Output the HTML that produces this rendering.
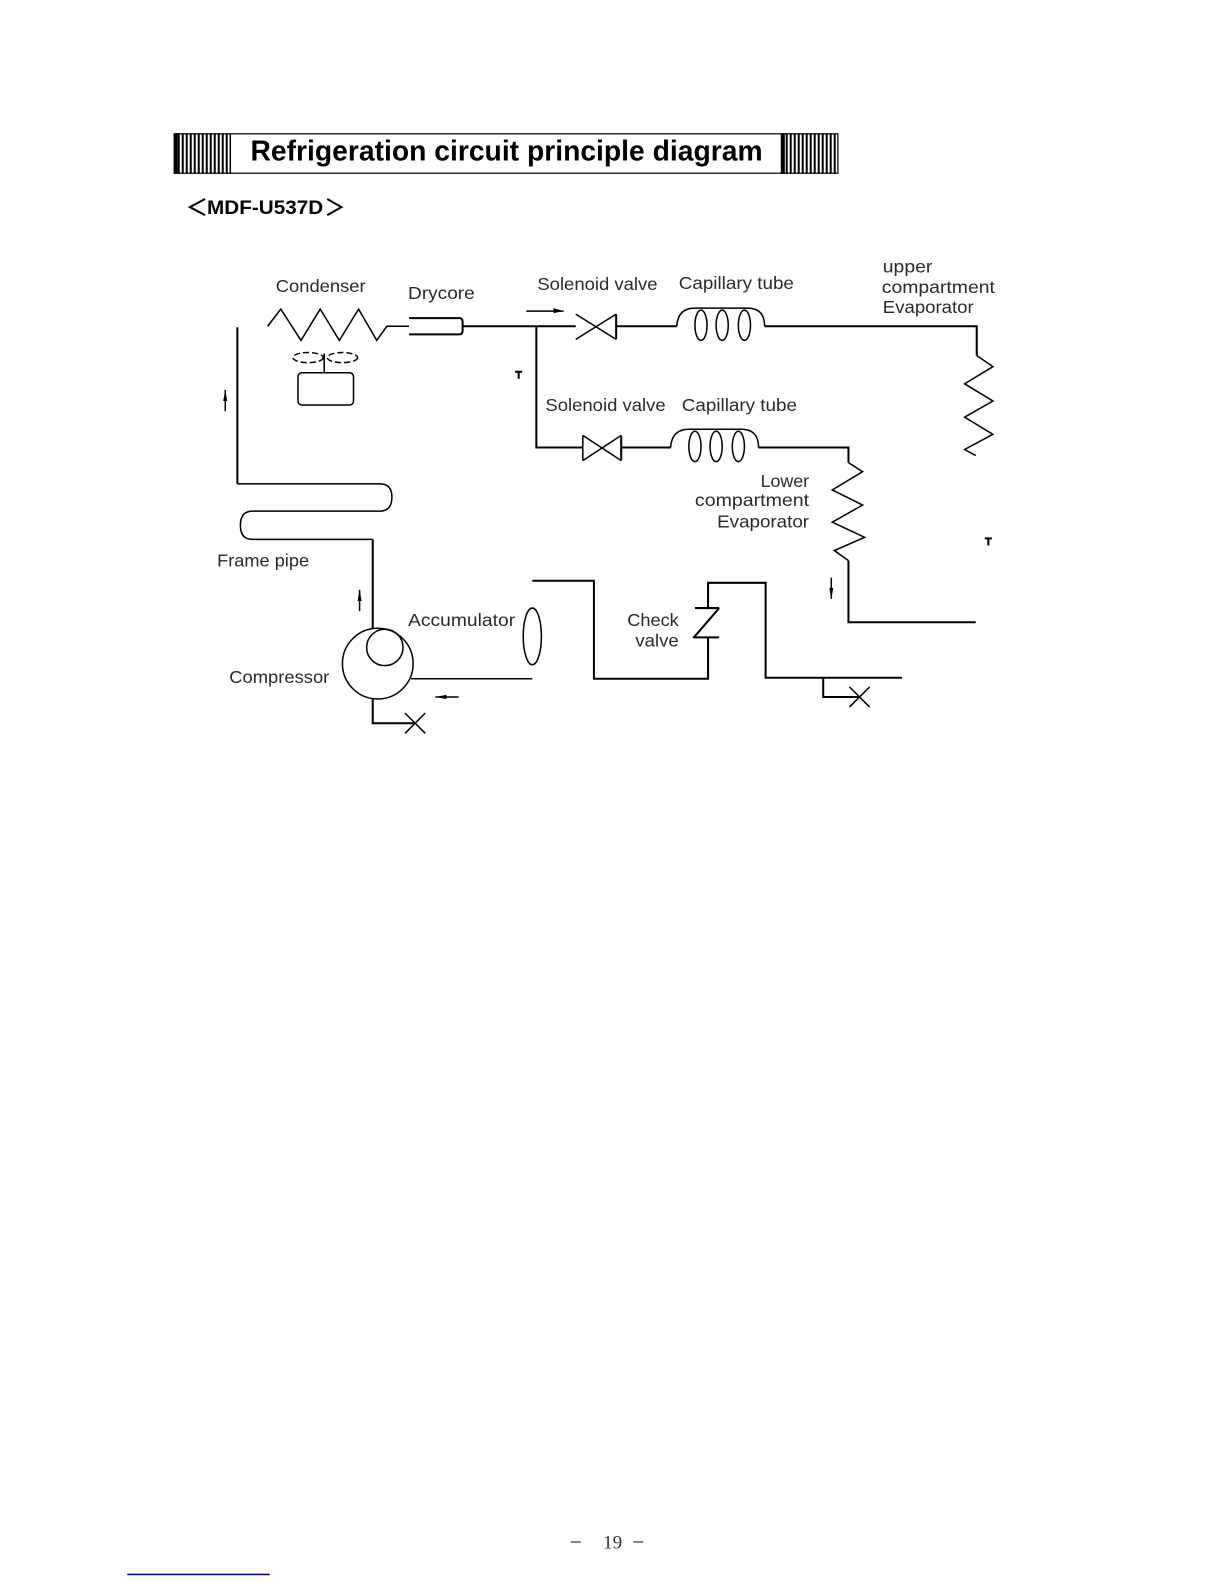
<!DOCTYPE html>
<html><head><meta charset="utf-8"><style>
html,body{margin:0;padding:0;background:#fff;width:1224px;height:1584px;overflow:hidden}
svg{display:block}
.l{font-family:"Liberation Sans",sans-serif;font-size:17px;fill:#2a2a2a}
.p{fill:none;stroke:#000;stroke-width:2}
.t{fill:none;stroke:#000;stroke-width:1.5}
</style></head><body>
<svg width="1224" height="1584" viewBox="0 0 1211.8 1568.2" xmlns="http://www.w3.org/2000/svg">
<defs><pattern id="h" x="172" y="0" width="3.96" height="10" patternUnits="userSpaceOnUse"><rect width="1.98" height="10" fill="#000"/></pattern></defs>
<!-- title -->
<rect x="172.5" y="132.5" width="657" height="39" fill="#fff" stroke="#000" stroke-width="1.2"/>
<rect x="172" y="132" width="55" height="40" fill="url(#h)"/><rect x="172" y="132" width="4" height="40"/>
<rect x="773" y="132" width="57" height="40" fill="url(#h)"/><rect x="773" y="132" width="4" height="40"/>
<path d="M228 132V172" class="t"/>
<text x="248" y="159" textLength="507" lengthAdjust="spacingAndGlyphs" style="font:bold 28px 'Liberation Sans',sans-serif">Refrigeration circuit principle diagram</text>
<path d="M203 197L188 205L203 213M324 197L338 205L324 213" class="p"/>
<text x="205" y="212" textLength="115" lengthAdjust="spacingAndGlyphs" style="font:bold 19px 'Liberation Sans',sans-serif">MDF-U537D</text>
<!-- labels -->
<text class="l" x="273" y="289" textLength="89" lengthAdjust="spacingAndGlyphs">Condenser</text>
<text class="l" x="404" y="296" textLength="66" lengthAdjust="spacingAndGlyphs">Drycore</text>
<text class="l" x="532" y="287" textLength="119" lengthAdjust="spacingAndGlyphs">Solenoid valve</text>
<text class="l" x="672" y="286" textLength="114" lengthAdjust="spacingAndGlyphs">Capillary tube</text>
<text class="l" x="874" y="270" textLength="49" lengthAdjust="spacingAndGlyphs">upper</text>
<text class="l" x="873" y="290" textLength="112" lengthAdjust="spacingAndGlyphs">compartment</text>
<text class="l" x="874" y="310" textLength="90" lengthAdjust="spacingAndGlyphs">Evaporator</text>
<text class="l" x="540" y="407" textLength="119" lengthAdjust="spacingAndGlyphs">Solenoid valve</text>
<text class="l" x="675" y="407" textLength="114" lengthAdjust="spacingAndGlyphs">Capillary tube</text>
<text class="l" x="753" y="482" textLength="48" lengthAdjust="spacingAndGlyphs">Lower</text>
<text class="l" x="688" y="501" textLength="113" lengthAdjust="spacingAndGlyphs">compartment</text>
<text class="l" x="710" y="522" textLength="91" lengthAdjust="spacingAndGlyphs">Evaporator</text>
<text class="l" x="215" y="561" textLength="91" lengthAdjust="spacingAndGlyphs">Frame pipe</text>
<text class="l" x="404" y="620" textLength="106" lengthAdjust="spacingAndGlyphs">Accumulator</text>
<text class="l" x="227" y="676" textLength="99" lengthAdjust="spacingAndGlyphs">Compressor</text>
<text class="l" x="621" y="620" textLength="51" lengthAdjust="spacingAndGlyphs">Check</text>
<text class="l" x="629" y="640" textLength="43" lengthAdjust="spacingAndGlyphs">valve</text>
<!-- condenser & drycore -->
<path class="t" d="M265 323L278 306L298 337L317 306L336 337L355 306L373 337L383 323H405"/>
<path class="p" d="M405 315H455Q458 315 458 319V327Q458 331 455 331H405"/>
<path class="p" d="M458 323H570"/>
<ellipse class="t" cx="305" cy="354" rx="15" ry="5" stroke-dasharray="6 3"/>
<ellipse class="t" cx="339" cy="354" rx="15" ry="5" stroke-dasharray="6 3"/>
<path class="t" d="M321 350V369"/>
<rect class="t" x="295" y="369" width="55" height="32" rx="4"/>
<!-- branch and valves -->
<path class="p" d="M531 323V443H577"/>
<path class="t" d="M570 311L610 336M570 336L610 311"/><path class="p" d="M610 311V336M610 323H670"/>
<path class="t" d="M577 431L615 456M577 456L615 431M577 431V456"/><path class="p" d="M615 431V456M615 443H664"/>
<!-- coils -->
<path class="t" d="M670 323Q671 305 688 305H740Q757 305 757 323"/>
<ellipse class="t" cx="694" cy="322" rx="6" ry="15"/><ellipse class="t" cx="715" cy="322" rx="6" ry="15"/><ellipse class="t" cx="737" cy="322" rx="6" ry="15"/>
<path class="t" d="M664 443Q665 425 682 425H734Q751 425 751 443"/>
<ellipse class="t" cx="688" cy="442" rx="6" ry="15"/><ellipse class="t" cx="709" cy="442" rx="6" ry="15"/><ellipse class="t" cx="731" cy="442" rx="6" ry="15"/>
<!-- evaporators -->
<path class="p" d="M757 323H967V352"/>
<path class="t" d="M967 352L983 363L955 380L983 397L955 413L983 430L955 445L966 451"/>
<path class="p" d="M751 443H840V458"/>
<path class="t" d="M840 458L854 467L824 485L854 500L824 517L856 532L826 545L840 555"/>
<path class="p" d="M840 555V616H966"/>
<!-- frame pipe -->
<path class="p" d="M235 324V479"/>
<path class="t" d="M235 479H376Q388 479 388 492Q388 506 376 506H250Q238 506 238 520Q238 534 250 534H369"/>
<path class="p" d="M369 534V622"/>
<!-- compressor -->
<circle class="t" cx="374" cy="657" r="35"/>
<circle class="t" cx="381" cy="641" r="18"/>
<path class="t" d="M407 672H527"/>
<path class="p" d="M369 692V716H410"/>
<path class="t" d="M401 706L421 726M421 706L401 726"/>
<ellipse class="t" cx="527" cy="630" rx="9" ry="28"/>
<!-- lower piping -->
<path class="p" d="M527 575H588V672H701V631M686 631H712M688 602H712M701 602V577H758V671H893M815 671V690H850"/>
<path class="p" d="M712 602L687 631"/>
<path class="t" d="M841 680L861 700M861 680L841 700"/>
<!-- flow arrows -->
<path class="t" d="M521 308H558"/><path d="M548 305L558 308L548 310Z"/>
<path class="t" d="M223 386V407"/><path d="M221 397L223 386L225 397Z"/>
<path class="t" d="M356 584V605"/><path d="M354 595L356 584L358 595Z"/>
<path class="t" d="M823 572V593"/><path d="M821 582L823 593L825 582Z"/>
<path class="t" d="M431 690H454"/><path d="M442 688L431 690L442 692Z"/>
<path d="M510 367H517V369H514.500V375H512.500V369H510Z"/>
<path d="M975 532H982V534H979.500V540H977.500V534H975Z"/>
<!-- footer -->
<rect x="565" y="1526" width="10" height="1.200" fill="#333"/>
<text x="597" y="1533" style="font:19px 'Liberation Serif',serif;fill:#333">19</text>
<rect x="627" y="1526" width="10" height="1.200" fill="#333"/>
<rect x="126" y="1558" width="141" height="1.500" fill="#00008b"/>
</svg>
</body></html>
